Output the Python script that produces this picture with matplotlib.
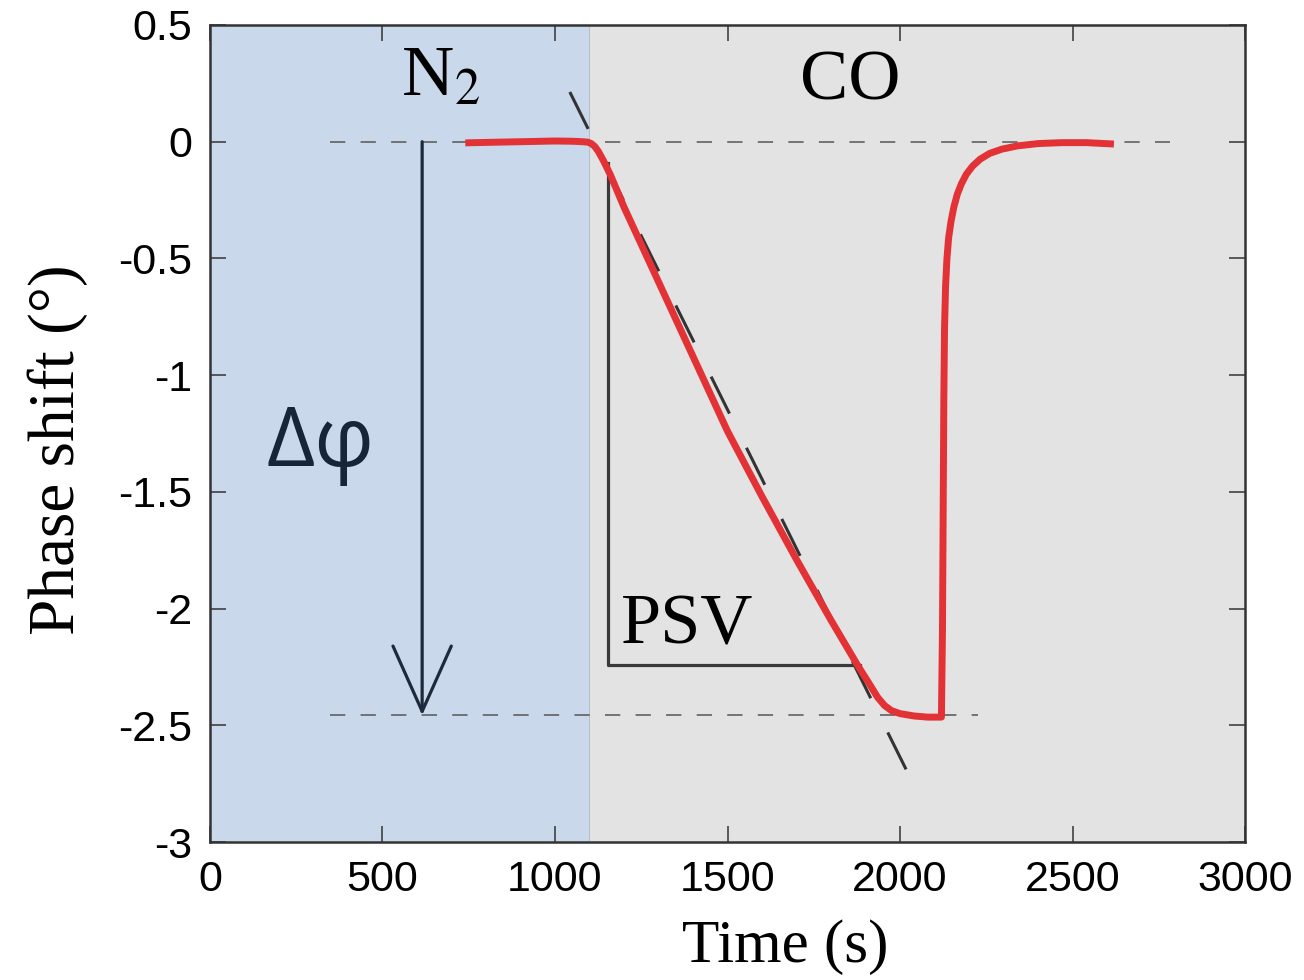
import matplotlib
matplotlib.use("Agg")
import matplotlib.pyplot as plt

plt.rcParams['mathtext.fontset'] = 'stix'

time_s = [740, 800, 900, 1000, 1050, 1080, 1095, 1105, 1115, 1125, 1140, 1160,
          1200, 1300, 1400, 1500, 1600, 1700, 1800, 1880, 1910, 1935, 1955,
          1975, 2000, 2040, 2080, 2120, 2123, 2125, 2127, 2129, 2132, 2136,
          2141, 2148, 2156, 2166, 2178, 2192, 2210, 2232, 2260, 2295, 2340,
          2400, 2470, 2540, 2620]
phase_deg = [-0.005, -0.003, 0.0, 0.003, 0.002, 0.0, -0.002, -0.008, -0.02,
             -0.04, -0.08, -0.14, -0.28, -0.60, -0.92, -1.24, -1.52, -1.79,
             -2.05, -2.25, -2.32, -2.38, -2.415, -2.437, -2.45, -2.46, -2.465,
             -2.465, -2.1, -1.6, -1.1, -0.8, -0.62, -0.5, -0.41, -0.34, -0.28,
             -0.225, -0.18, -0.14, -0.105, -0.075, -0.05, -0.032, -0.018,
             -0.008, -0.004, -0.004, -0.01]

# gas switching and annotation values
n2_end = 1100
t_max = 3000
baseline = 0.0
plateau = -2.457
tangent_t = [1043, 2023]
tangent_y = [0.213, -2.705]
arrow_t = 615
psv_t = [1153, 1153, 1884]
psv_y = [-0.09, -2.242, -2.242]
base_line_t = [348, 2783]
plateau_line_t = [348, 2226]

fig = plt.figure(figsize=(13.04, 9.8), dpi=100)
ax = fig.add_axes([0.161, 0.1408, 0.7938, 0.8337])

# background regions
ax.axvspan(0, n2_end, color='#c9d8ea', zorder=0)
ax.axvspan(n2_end, t_max, color='#e3e3e3', zorder=0)
ax.axvline(n2_end, color='#b5bfca', lw=0.8, zorder=0.5)

# reference dashed lines
ax.plot(base_line_t, [baseline, baseline], color='#555555', lw=1.1,
        linestyle=(0, (10, 10)), zorder=2)
ax.plot(plateau_line_t, [plateau, plateau], color='#555555', lw=1.1,
        linestyle=(0, (10, 10)), zorder=2)

# tangent
ax.plot(tangent_t, tangent_y, color='#333333', lw=2.2,
        linestyle=(0, (13.5, 12.5)), zorder=2)

# PSV triangle
ax.plot(psv_t, psv_y, color='#3a3a3a', lw=2.3, zorder=2)

# data curve
ax.plot(time_s, phase_deg, color='#e23236', lw=5, solid_capstyle='butt',
        solid_joinstyle='round', zorder=3)

# delta phi arrow
ax.annotate('', xy=(arrow_t, plateau), xytext=(arrow_t, baseline),
            arrowprops=dict(arrowstyle='->,head_length=4.7,head_width=2.1',
                            color='#1c2a3c', lw=2.3, shrinkA=0, shrinkB=0),
            zorder=4)

ax.text(165, -1.39, 'Δφ', fontsize=60, color='#172538', family='Open Sans',
        ha='left', va='baseline')
ax.text(555, 0.2, 'N$_2$', fontsize=52, family='Liberation Serif',
        ha='left', va='baseline')
ax.text(1710, 0.18, 'CO', fontsize=52, family='Liberation Serif',
        ha='left', va='baseline')
ax.text(1190, -2.15, 'PSV', fontsize=52, family='Liberation Serif',
        ha='left', va='baseline')

ax.set_xlim(0, t_max)
ax.set_ylim(-3, 0.5)
ax.set_xticks(range(0, 3001, 500))
ax.set_yticks([-3, -2.5, -2, -1.5, -1, -0.5, 0, 0.5])
ax.set_yticklabels(['-3', '-2.5', '-2', '-1.5', '-1', '-0.5', '0', '0.5'])
ax.tick_params(direction='in', length=11.5, width=1.1, color='#333333',
               top=True, right=True, labelsize=31, pad=13)
for lab in ax.get_xticklabels() + ax.get_yticklabels():
    lab.set_family('Liberation Sans')
for sp in ax.spines.values():
    sp.set_linewidth(1.8)
    sp.set_color('#333333')

ax.set_xlabel('Time (s)', fontsize=44, family='Liberation Serif')
ax.set_ylabel('Phase shift (°)', fontsize=47, family='Liberation Serif')
ax.xaxis.set_label_coords(0.556, -0.095)
ax.yaxis.set_label_coords(-0.118, 0.48)

fig.savefig('out.png', dpi=100)
